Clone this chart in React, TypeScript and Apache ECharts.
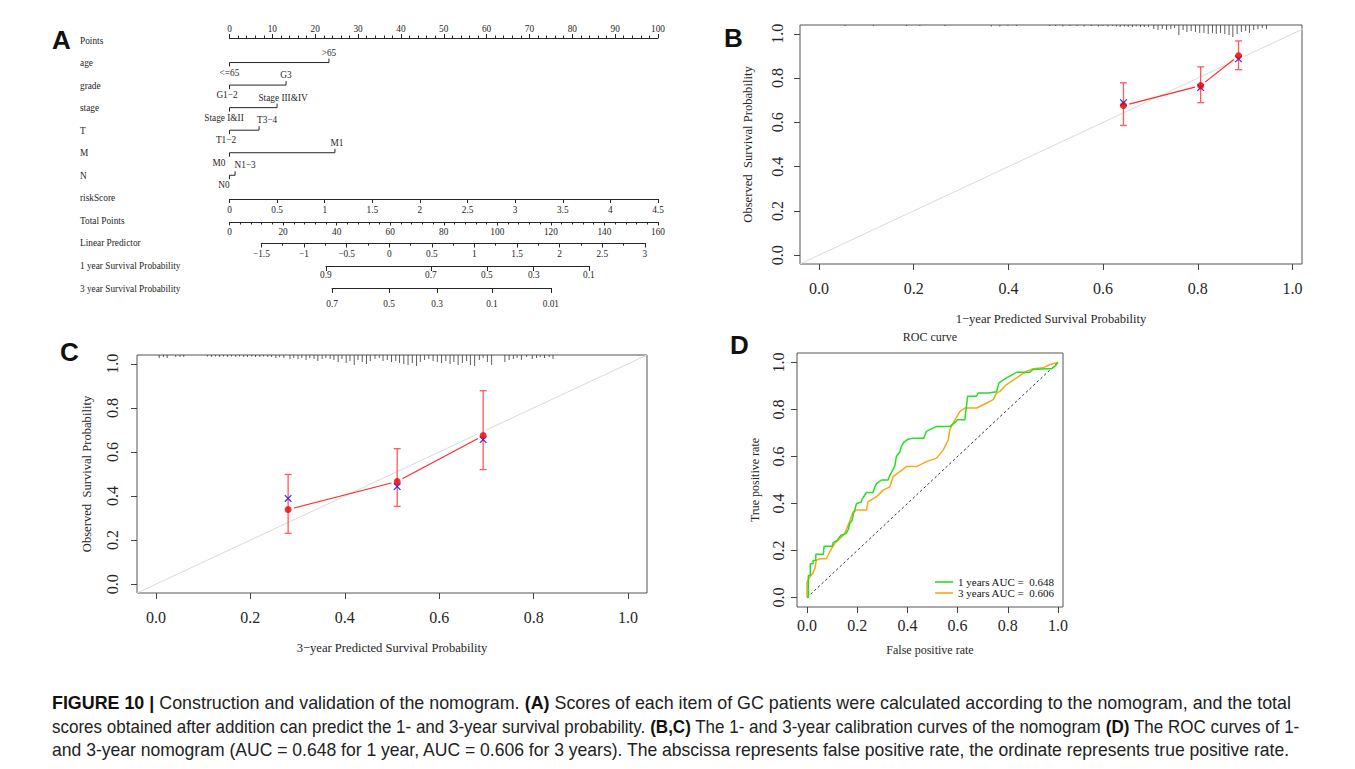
import React, { useEffect, useRef } from 'react';
import * as echarts from 'echarts';

const SERIF = '"Liberation Serif", "Times New Roman", Times, serif';
const SANS = '"Liberation Sans", Arial, Helvetica, sans-serif';
const INK = '#262626';

// ---------------- Panel A : nomogram ----------------
const nomoRows = [
  'Points', 'age', 'grade', 'stage', 'T', 'M', 'N', 'riskScore', 'Total Points',
  'Linear Predictor', '1 year Survival Probability', '3 year Survival Probability',
];
const nomoVars = ['age', 'grade', 'stage', 'T', 'M', 'N'];
const varMaxPoints = [23.2, 13.2, 11.1, 6.9, 24.6, 1.3];
const varLowLabels = ['<=65', 'G1\u22122', 'Stage I&II', 'T1\u22122', 'M0', 'N0'];
const varHighLabels = ['>65', 'G3', 'Stage III&IV', 'T3\u22124', 'M1', 'N1\u22123'];
const pointsRange = [0, 100];
const riskScoreRange = [0, 4.5];
const totalPointsRange = [0, 160];
const linPredRange = [-1.5, 3];
const linPredTotalPts = [11.9, 155.1];
const surv1Labels = ['0.9', '0.7', '0.5', '0.3', '0.1'];
const surv1TotalPts = [36.0, 75.2, 96.1, 113.6, 134.2];
const surv3Labels = ['0.7', '0.5', '0.3', '0.1', '0.01'];
const surv3TotalPts = [38.3, 59.6, 77.5, 98.0, 120.0];

// ---------------- Panel B : 1-year calibration ----------------
const cal1Pred = [0.643, 0.806, 0.886];
const cal1Obs = [0.676, 0.766, 0.901];
const cal1Corr = [0.689, 0.757, 0.887];
const cal1Low = [0.586, 0.689, 0.838];
const cal1High = [0.779, 0.851, 0.968];
const rug1X = [
  0.055, 0.115, 0.185, 0.213, 0.266, 0.364, 0.382, 0.399, 0.417,
  0.487, 0.5, 0.515, 0.53, 0.545, 0.56, 0.575, 0.59, 0.6, 0.61, 0.62, 0.628,
  0.636, 0.645, 0.653, 0.662, 0.67, 0.679, 0.687, 0.696,
  0.707, 0.716, 0.725, 0.734, 0.743, 0.751, 0.76, 0.769, 0.777, 0.786, 0.795, 0.804,
  0.813, 0.822, 0.831, 0.839, 0.848, 0.857, 0.866, 0.874, 0.883, 0.892, 0.901, 0.909,
  0.918, 0.927, 0.936, 0.945,
];
const rug1N = [
  1, 1, 1, 1, 1, 1.5, 1.5, 1, 1,
  1, 1, 1.5, 1, 1, 1.5, 1, 1.5, 1, 1.5, 1, 1.5,
  2, 1.5, 2, 2, 1.5, 2, 2, 2,
  4, 5, 4, 5, 4, 3, 10, 5, 7, 6, 7, 8,
  8, 9, 8, 9, 8, 9, 10, 12, 9, 7, 6, 8,
  5, 4, 3, 4,
];

// ---------------- Panel C : 3-year calibration ----------------
const cal3Pred = [0.28, 0.511, 0.693];
const cal3Obs = [0.339, 0.466, 0.674];
const cal3Corr = [0.389, 0.443, 0.656];
const cal3Low = [0.231, 0.353, 0.52];
const cal3High = [0.498, 0.615, 0.878];
const rug3X = [
  0.007, 0.016, 0.024, 0.042, 0.051, 0.059,
  0.109, 0.118, 0.126, 0.135, 0.143, 0.152, 0.16, 0.169, 0.177, 0.186, 0.194, 0.203,
  0.211, 0.22, 0.228, 0.237, 0.245, 0.254, 0.262, 0.271,
  0.284, 0.292, 0.301, 0.309, 0.318, 0.326, 0.335, 0.343, 0.352, 0.36, 0.369, 0.377,
  0.386, 0.394, 0.403, 0.411, 0.42, 0.428,
  0.437, 0.446, 0.454, 0.464, 0.473, 0.481, 0.49, 0.499, 0.508, 0.516, 0.525, 0.534,
  0.543, 0.552, 0.56, 0.569, 0.578, 0.587, 0.596, 0.605, 0.614, 0.623, 0.631, 0.64,
  0.649, 0.658, 0.666, 0.675, 0.685, 0.693, 0.702, 0.711,
  0.739, 0.748, 0.757, 0.765, 0.774, 0.785, 0.797, 0.806, 0.814, 0.823, 0.833, 0.841,
];
const rug3N = [
  3, 2, 3, 2, 2, 2,
  1.5, 2, 1.5, 2, 1.5, 2, 1.5, 2, 1.5, 2, 2, 1.5,
  2, 2, 1.5, 2, 2, 3, 2, 3,
  4, 3, 4, 3, 5, 3, 4, 6, 4, 3, 4, 5,
  7, 4, 8, 6, 10, 5,
  7, 9, 6, 4, 3, 6, 5, 7, 6, 8, 9, 10,
  8, 11, 7, 5, 4, 6, 7, 8, 6, 9, 7, 10,
  8, 6, 10, 11, 5, 3, 7, 10,
  7, 5, 4, 3, 5, 2, 4, 3, 2, 3, 2, 4,
];

// ---------------- Panel D : ROC ----------------
const roc1Name = '1 years AUC =  0.648';
const roc3Name = '3 years AUC =  0.606';
const roc1Fpr = [
  0, 0.005, 0.005, 0.013, 0.013, 0.024, 0.024, 0.035, 0.035, 0.065, 0.068, 0.09, 0.1, 0.105,
  0.12, 0.135, 0.155, 0.165, 0.17, 0.18, 0.185, 0.19, 0.197, 0.215, 0.22, 0.237, 0.263, 0.27,
  0.277, 0.29, 0.297, 0.323, 0.33, 0.34, 0.35, 0.356, 0.37, 0.375, 0.385, 0.4, 0.42, 0.465,
  0.476, 0.49, 0.516, 0.57, 0.59, 0.6, 0.629, 0.636, 0.64, 0.675, 0.682, 0.722, 0.755, 0.765,
  0.795, 0.835, 0.888, 0.9, 0.955, 0.975, 0.988, 1,
];
const roc1Tpr = [
  0, 0, 0.094, 0.094, 0.144, 0.144, 0.158, 0.158, 0.184, 0.184, 0.218, 0.218, 0.218, 0.235,
  0.243, 0.265, 0.272, 0.29, 0.315, 0.33, 0.358, 0.37, 0.4, 0.405, 0.42, 0.447, 0.447, 0.47,
  0.485, 0.495, 0.5, 0.5, 0.52, 0.54, 0.56, 0.6, 0.62, 0.64, 0.66, 0.672, 0.678, 0.678,
  0.707, 0.714, 0.728, 0.728, 0.745, 0.756, 0.756, 0.82, 0.856, 0.856, 0.87, 0.87, 0.875, 0.913,
  0.934, 0.958, 0.958, 0.97, 0.973, 0.973, 0.984, 1,
];
const roc3Fpr = [
  0, 0, 0.011, 0.021, 0.031, 0.037, 0.05, 0.077, 0.09, 0.11, 0.13, 0.15, 0.164, 0.184, 0.197,
  0.237, 0.243, 0.277, 0.303, 0.33, 0.343, 0.37, 0.396, 0.436, 0.476, 0.516, 0.543, 0.563,
  0.569, 0.582, 0.609, 0.629, 0.676, 0.702, 0.742, 0.755, 0.769, 0.795, 0.835, 0.875, 0.902,
  0.941, 0.968, 1,
];
const roc3Tpr = [
  0, 0.066, 0.087, 0.1, 0.123, 0.158, 0.165, 0.165, 0.194, 0.23, 0.25, 0.272, 0.308, 0.365,
  0.372, 0.372, 0.407, 0.429, 0.457, 0.471, 0.514, 0.536, 0.557, 0.557, 0.578, 0.593, 0.628,
  0.671, 0.714, 0.742, 0.792, 0.806, 0.806, 0.82, 0.842, 0.87, 0.877, 0.906, 0.934, 0.963,
  0.973, 0.977, 0.991, 1,
];

const calibTicks = [0, 0.2, 0.4, 0.6, 0.8, 1.0];

// ---------------- caption ----------------
const captionLines = [
  '{b|FIGURE 10 |} Construction and validation of the nomogram. {b|(A)} Scores of each item of GC patients were calculated according to the nomogram, and the total',
  'scores obtained after addition can predict the 1- and 3-year survival probability. {b|(B,C)} The 1- and 3-year calibration curves of the nomogram {b|(D)} The ROC curves of 1-',
  'and 3-year nomogram (AUC = 0.648 for 1 year, AUC = 0.606 for 3 years). The abscissa represents false positive rate, the ordinate represents true positive rate.',
];

// ---------------- layout / style ----------------
const A_LEFT = 229.5;
const A_WIDTH = 428.5;
const lowLabelDx = [0, -2.5, -5.5, -3.5, -10.5, -5.5];
const highLabelDx = [0, 0, 6, 8, 2, 10];
const captionYs = [703, 727, 750];
const captionScaleX = [1.021, 0.972, 1.003];
const tpToPx = (tp: number) => A_LEFT + (tp / totalPointsRange[1]) * A_WIDTH;
const nearest = (arr: number[], v: number) => {
  let best = 0;
  arr.forEach((a, i) => { if (Math.abs(a - v) < Math.abs(arr[best] - v)) best = i; });
  return best;
};

const aFont = { fontFamily: SERIF, fontSize: 9.3, color: INK };

function nomoAxis(gridIndex: number, o: any) {
  return {
    type: 'value', gridIndex, position: o.position || 'bottom',
    min: o.min, max: o.max, interval: o.interval,
    axisLine: { show: true, onZero: false, lineStyle: { color: INK, width: 1 } },
    axisTick: { show: true, length: o.tick || 4, lineStyle: { color: INK, width: 1 }, ...(o.tickExtra || {}) },
    minorTick: o.minor ? { show: true, splitNumber: o.minor, length: o.minorLen || 2.5, lineStyle: { color: INK, width: 1 } } : { show: false },
    axisLabel: { margin: o.margin, ...aFont, formatter: o.formatter, ...(o.labelExtra || {}) },
    splitLine: { show: false },
  };
}

function calibX(gridIndex: number, max: number, title: string, margin: number, gap: number, fs = 12.6) {
  return {
    type: 'value', gridIndex, min: -0.04, max,
    name: title, nameLocation: 'middle', nameGap: gap,
    nameTextStyle: { fontFamily: SERIF, fontSize: fs, color: INK },
    axisLine: { show: false, onZero: false },
    axisTick: { show: true, length: 6, customValues: calibTicks, lineStyle: { color: '#444' } },
    axisLabel: { customValues: calibTicks, margin, fontFamily: SERIF, fontSize: 16, color: INK, formatter: (v: number) => v.toFixed(1) },
    splitLine: { show: false },
  };
}
function calibY(gridIndex: number, title: string, margin: number, gap: number, fs = 12.6) {
  return {
    type: 'value', gridIndex, min: -0.04, max: 1.04,
    name: title, nameLocation: 'middle', nameGap: gap,
    nameTextStyle: { fontFamily: SERIF, fontSize: fs, color: INK },
    axisLine: { show: false, onZero: false },
    axisTick: { show: true, length: 6, customValues: calibTicks, lineStyle: { color: '#444' } },
    axisLabel: { customValues: calibTicks, rotate: 90, margin, fontFamily: SERIF, fontSize: 16, color: INK, formatter: (v: number) => v.toFixed(1) },
    splitLine: { show: false },
  };
}

const hiddenY = (gridIndex: number) => ({ type: 'value', gridIndex, show: false, min: 0, max: 1 });

function calibSeries(axis: number, pred: number[], obs: number[], corr: number[], low: number[], high: number[], rx: number[], rn: number[]) {
  const base = { xAxisIndex: axis, yAxisIndex: axis };
  return [
    {
      ...base, type: 'line', silent: true, symbol: 'none', z: 1,
      data: [[-0.04, -0.04], [1.04, 1.04]],
      lineStyle: { color: '#dadada', width: 1 },
    },
    {
      ...base, type: 'custom', z: 2, silent: true,
      data: rx.map((x, i) => [x, rn[i]]),
      renderItem: (params: any, api: any) => {
        const px = api.coord([api.value(0), 0])[0];
        const top = params.coordSys.y;
        return { type: 'line', shape: { x1: px, y1: top, x2: px, y2: top + api.value(1) * 1.0 }, style: { stroke: '#333', lineWidth: 0.8 } };
      },
    },
    {
      ...base, type: 'line', z: 3, silent: true,
      data: pred.map((p, i) => [p, obs[i]]),
      symbol: 'circle', symbolSize: 12, itemStyle: { color: '#ffffff', borderWidth: 0 },
      lineStyle: { color: '#ff2a2a', width: 1.2 },
    },
    {
      ...base, type: 'custom', z: 4, silent: true,
      data: pred.map((p, i) => [p, low[i], high[i]]),
      renderItem: (params: any, api: any) => {
        const lo = api.coord([api.value(0), api.value(1)]);
        const hi = api.coord([api.value(0), api.value(2)]);
        const st = { stroke: '#ff5a5a', lineWidth: 1.3 };
        const w = 3.5;
        return {
          type: 'group', children: [
            { type: 'line', shape: { x1: lo[0], y1: lo[1], x2: hi[0], y2: hi[1] }, style: st },
            { type: 'line', shape: { x1: lo[0] - w, y1: lo[1], x2: lo[0] + w, y2: lo[1] }, style: st },
            { type: 'line', shape: { x1: hi[0] - w, y1: hi[1], x2: hi[0] + w, y2: hi[1] }, style: st },
          ],
        };
      },
    },
    {
      ...base, type: 'custom', z: 5, silent: true,
      data: pred.map((p, i) => [p, corr[i]]),
      renderItem: (params: any, api: any) => {
        const c = api.coord([api.value(0), api.value(1)]);
        const s = 3.3;
        const st = { stroke: '#2b2bf5', lineWidth: 1.2 };
        return {
          type: 'group', children: [
            { type: 'line', shape: { x1: c[0] - s, y1: c[1] - s, x2: c[0] + s, y2: c[1] + s }, style: st },
            { type: 'line', shape: { x1: c[0] - s, y1: c[1] + s, x2: c[0] + s, y2: c[1] - s }, style: st },
          ],
        };
      },
    },
    {
      ...base, type: 'scatter', z: 6, silent: true,
      data: pred.map((p, i) => [p, obs[i]]),
      symbol: 'circle', symbolSize: 7, itemStyle: { color: '#ee0000' },
    },
  ];
}

function buildOption(): any {
  const grids = [
    { left: A_LEFT, top: 40.5, width: A_WIDTH, height: 248 },                 // 0 nomogram rows
    { left: A_LEFT, top: 38, width: A_WIDTH, height: 1 },                     // 1 points (top)
    { left: A_LEFT, top: 198, width: A_WIDTH, height: 1 },                    // 2 riskScore
    { left: A_LEFT, top: 221, width: A_WIDTH, height: 1 },                    // 3 total points
    { left: tpToPx(linPredTotalPts[0]), top: 242, width: tpToPx(linPredTotalPts[1]) - tpToPx(linPredTotalPts[0]), height: 1 }, // 4 LP
    { left: tpToPx(surv1TotalPts[0]), top: 265, width: tpToPx(surv1TotalPts[4]) - tpToPx(surv1TotalPts[0]), height: 1 },       // 5
    { left: tpToPx(surv3TotalPts[0]), top: 287, width: tpToPx(surv3TotalPts[4]) - tpToPx(surv3TotalPts[0]), height: 1 },       // 6
    { left: 800, top: 25, width: 502, height: 239, show: true, borderColor: '#555', borderWidth: 1 },   // 7 B
    { left: 137, top: 355, width: 510, height: 238, show: true, borderColor: '#555', borderWidth: 1 },  // 8 C
    { left: 797, top: 353, width: 266, height: 254, show: true, borderColor: '#555', borderWidth: 1 },  // 9 D
  ];

  const xAxis = [
    { type: 'value', gridIndex: 0, min: pointsRange[0], max: pointsRange[1], show: false },
    nomoAxis(1, { position: 'top', min: pointsRange[0], max: pointsRange[1], interval: 10, minor: 5, tick: 4, minorLen: 2.5, margin: 5 }),
    nomoAxis(2, { min: riskScoreRange[0], max: riskScoreRange[1], interval: 0.5, tick: 4, margin: 6.5 }),
    nomoAxis(3, { min: totalPointsRange[0], max: totalPointsRange[1], interval: 20, minor: 5, tick: 3.5, minorLen: 2.5, margin: 5 }),
    nomoAxis(4, {
      min: linPredRange[0], max: linPredRange[1], interval: 0.5, minor: 2, tick: 4.5, minorLen: 2.7, margin: 6,
      formatter: (v: number) => String(v).replace('-', '\u2212'),
    }),
    nomoAxis(5, {
      min: surv1TotalPts[0], max: surv1TotalPts[4], tick: 5, margin: 4.5,
      tickExtra: { customValues: surv1TotalPts },
      labelExtra: { customValues: surv1TotalPts },
      formatter: (v: number) => surv1Labels[nearest(surv1TotalPts, v)],
    }),
    nomoAxis(6, {
      min: surv3TotalPts[0], max: surv3TotalPts[4], tick: 5, margin: 11,
      tickExtra: { customValues: surv3TotalPts },
      labelExtra: { customValues: surv3TotalPts },
      formatter: (v: number) => surv3Labels[nearest(surv3TotalPts, v)],
    }),
    calibX(7, 1.02, '1\u2212year Predicted Survival Probability', 16.5, 48),
    calibX(8, 1.04, '3\u2212year Predicted Survival Probability', 16, 48),
    calibX(9, 1.02, 'False positive rate', 10, 37, 12),
  ];

  const yAxis = [
    {
      type: 'category', gridIndex: 0, inverse: true, boundaryGap: false, data: nomoRows,
      axisLine: { show: false }, axisTick: { show: false },
      axisLabel: { interval: 0, align: 'left', margin: A_LEFT - 80, ...aFont },
    },
    hiddenY(1), hiddenY(2), hiddenY(3), hiddenY(4), hiddenY(5), hiddenY(6),
    calibY(7, 'Observed  Survival Probability', 14.5, 46),
    calibY(8, 'Observed  Survival Probability', 17, 44),
    calibY(9, 'True positive rate', 11, 36, 12),
  ];

  const series: any[] = [
    {
      type: 'custom', xAxisIndex: 0, yAxisIndex: 0, silent: true, clip: false,
      data: nomoVars.map((n, i) => [varMaxPoints[i], n]),
      renderItem: (params: any, api: any) => {
        const i = params.dataIndex;
        const p0 = api.coord([0, nomoVars[i]]);
        const p1 = api.coord([api.value(0), nomoVars[i]]);
        const y = p0[1] - 0.5;
        const st = { stroke: INK, lineWidth: 1 };
        const txt = (text: string, x: number, yy: number) => ({
          type: 'text', x, y: yy,
          style: { text, fill: INK, fontFamily: SERIF, fontSize: 9.3, align: 'center', verticalAlign: 'middle' },
        });
        return {
          type: 'group', children: [
            { type: 'line', shape: { x1: p0[0], y1: y, x2: p1[0], y2: y }, style: st },
            { type: 'line', shape: { x1: p0[0], y1: y, x2: p0[0], y2: y + 4 }, style: st },
            { type: 'line', shape: { x1: p1[0], y1: y, x2: p1[0], y2: y - 4 }, style: st },
            txt(varLowLabels[i], p0[0] + lowLabelDx[i], y + 10),
            txt(varHighLabels[i], p1[0] + highLabelDx[i], y - 10),
          ],
        };
      },
    },
    ...calibSeries(7, cal1Pred, cal1Obs, cal1Corr, cal1Low, cal1High, rug1X, rug1N),
    ...calibSeries(8, cal3Pred, cal3Obs, cal3Corr, cal3Low, cal3High, rug3X, rug3N),
    {
      type: 'line', xAxisIndex: 9, yAxisIndex: 9, silent: true, symbol: 'none', z: 1,
      data: [[0, 0], [1, 1]], lineStyle: { color: '#333', width: 1, type: [2.5, 2.5] },
    },
    {
      name: roc3Name, type: 'line', xAxisIndex: 9, yAxisIndex: 9, symbol: 'none', z: 2,
      data: roc3Fpr.map((f, i) => [f, roc3Tpr[i]]), lineStyle: { color: '#ffa31a', width: 1.5 }, itemStyle: { color: '#ffa31a' },
    },
    {
      name: roc1Name, type: 'line', xAxisIndex: 9, yAxisIndex: 9, symbol: 'none', z: 3,
      data: roc1Fpr.map((f, i) => [f, roc1Tpr[i]]), lineStyle: { color: '#22e022', width: 1.5 }, itemStyle: { color: '#22e022' },
    },
  ];

  const letter = (t: string, x: number, y: number) => ({
    type: 'text', x, y,
    style: { text: t, fill: '#111', fontFamily: SANS, fontSize: 26, fontWeight: 'bold', align: 'left', verticalAlign: 'middle' },
  });
  const graphic: any[] = [
    letter('A', 52, 40), letter('B', 724, 38), letter('C', 60, 352), letter('D', 730, 345),
    {
      type: 'text', x: 930, y: 337,
      style: { text: 'ROC curve', fill: INK, fontFamily: SERIF, fontSize: 12, align: 'center', verticalAlign: 'middle' },
    },
    ...captionLines.map((t, i) => ({
      type: 'text', x: 52, y: captionYs[i], scaleX: captionScaleX[i],
      style: {
        text: t, fill: '#222', fontFamily: SANS, fontSize: 17.5, align: 'left', verticalAlign: 'middle',
        rich: { b: { fontFamily: SANS, fontSize: 17.5, fontWeight: 'bold', fill: '#111' } },
      },
    })),
  ];

  return {
    animation: false,
    backgroundColor: '#ffffff',
    grid: grids,
    xAxis,
    yAxis,
    series,
    graphic,
    legend: {
      data: [roc1Name, roc3Name], orient: 'vertical', left: 930, top: 571.5,
      icon: 'rect', itemWidth: 18, itemHeight: 1.6, itemGap: 0, selectedMode: false,
      textStyle: { fontFamily: SERIF, fontSize: 11, color: '#111' },
    },
  };
}

export default function App() {
  const ref = useRef<HTMLDivElement>(null);
  useEffect(() => {
    const chart = echarts.init(ref.current as HTMLDivElement, null, { renderer: 'svg' });
    chart.setOption(buildOption());
    return () => chart.dispose();
  }, []);
  return (
    <div
      ref={ref}
      style={{ position: 'fixed', left: 0, top: 0, width: 1355, height: 769, background: '#ffffff' }}
    />
  );
}
